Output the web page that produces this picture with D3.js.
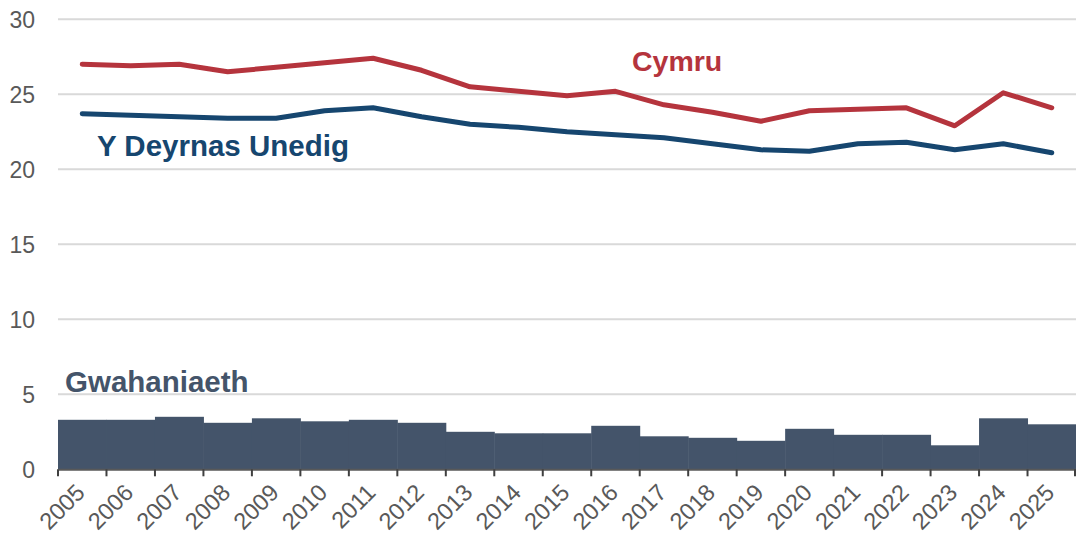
<!DOCTYPE html>
<html>
<head>
<meta charset="utf-8">
<script src="https://cdn.jsdelivr.net/npm/d3@7"></script>
<style>
  body { margin: 0; background: #fff; }
  svg text { font-family: "Liberation Sans", Arial, sans-serif; }
</style>
</head>
<body>
<svg id="chart" width="1076" height="541"></svg>
<script>
var years = ["2005","2006","2007","2008","2009","2010","2011","2012","2013","2014","2015",
             "2016","2017","2018","2019","2020","2021","2022","2023","2024","2025"];
var cymru = [27.0,26.9,27.0,26.5,26.8,27.1,27.4,26.6,25.5,25.2,24.9,25.2,24.3,23.8,23.2,23.9,24.0,24.1,22.9,25.1,24.1];
var uk    = [23.7,23.6,23.5,23.4,23.4,23.9,24.1,23.5,23.0,22.8,22.5,22.3,22.1,21.7,21.3,21.2,21.7,21.8,21.3,21.7,21.1];
var gap   = [3.3,3.3,3.5,3.1,3.4,3.2,3.3,3.1,2.5,2.4,2.4,2.9,2.2,2.1,1.9,2.7,2.3,2.3,1.6,3.4,3.0];
var yTicks = [0,5,10,15,20,25,30];

var svg = d3.select("#chart");

var x = d3.scaleBand()
    .domain(years)
    .range([58, 1076])
    .padding(0);
var y = d3.scaleLinear()
    .domain([0, 30])
    .range([469.3, 19.3]);

//gridlines
svg.append("g")
    .selectAll("line")
    .data(yTicks.filter(function(d){ return d > 0; }))
    .enter()
    .append("line")
    .attr("x1", 58)
    .attr("x2", 1076)
    .attr("y1", function(d){ return y(d); })
    .attr("y2", function(d){ return y(d); })
    .attr("stroke", "#d9d9d9")
    .attr("stroke-width", 2);

//y labels
svg.append("g")
    .selectAll("text")
    .data(yTicks)
    .enter()
    .append("text")
    .attr("x", 35)
    .attr("y", function(d){ return y(d); })
    .attr("dy", "0.36em")
    .attr("text-anchor", "end")
    .attr("font-size", 23)
    .attr("fill", "#595959")
    .text(function(d){ return d; });

//difference bars
svg.append("g")
    .selectAll("rect")
    .data(gap)
    .enter()
    .append("rect")
    .attr("x", function(d,i){ return x(years[i]); })
    .attr("width", x.bandwidth() + 0.5)
    .attr("y", function(d){ return y(d); })
    .attr("height", function(d){ return y(0) - y(d); })
    .attr("fill", "#44546a");

//x axis
var axisX = d3.axisBottom(x).tickSize(0).tickFormat("");
svg.append("g")
    .attr("transform", "translate(0," + y(0) + ")")
    .call(axisX)
    .call(function(g){
        g.select(".domain").attr("stroke", "#595959").attr("stroke-width", 2);
    });

var bounds = years.map(function(d){ return x(d); }).concat([1075]);
svg.append("g")
    .selectAll("line")
    .data(bounds)
    .enter()
    .append("line")
    .attr("x1", function(d){ return d; })
    .attr("x2", function(d){ return d; })
    .attr("y1", y(0))
    .attr("y2", y(0) + 7)
    .attr("stroke", "#404040")
    .attr("stroke-width", 2);

svg.append("g")
    .selectAll("text")
    .data(years)
    .enter()
    .append("text")
    .attr("transform", function(d){
        return "translate(" + (x(d) + x.bandwidth()/2 + 4) + ",494) rotate(-45)";
    })
    .attr("text-anchor", "end")
    .attr("font-size", 23.5)
    .attr("fill", "#595959")
    .text(function(d){ return d; });

//lines
var line = d3.line()
    .x(function(d,i){ return x(years[i]) + x.bandwidth()/2; })
    .y(function(d){ return y(d); });

svg.append("path")
    .datum(uk)
    .attr("d", line)
    .attr("fill", "none")
    .attr("stroke", "#16466f")
    .attr("stroke-width", 5)
    .attr("stroke-linejoin", "round")
    .attr("stroke-linecap", "round");

svg.append("path")
    .datum(cymru)
    .attr("d", line)
    .attr("fill", "none")
    .attr("stroke", "#b5343d")
    .attr("stroke-width", 5)
    .attr("stroke-linejoin", "round")
    .attr("stroke-linecap", "round");

//series labels
svg.append("text")
    .attr("x", 632).attr("y", 71)
    .attr("font-size", 28.5).attr("font-weight", "bold")
    .attr("fill", "#b5343d")
    .text("Cymru");
svg.append("text")
    .attr("x", 97).attr("y", 156)
    .attr("font-size", 29.5).attr("font-weight", "bold")
    .attr("fill", "#16466f")
    .text("Y Deyrnas Unedig");
svg.append("text")
    .attr("x", 65).attr("y", 392)
    .attr("font-size", 29.5).attr("font-weight", "bold")
    .attr("fill", "#44546a")
    .text("Gwahaniaeth");
</script>
</body>
</html>
